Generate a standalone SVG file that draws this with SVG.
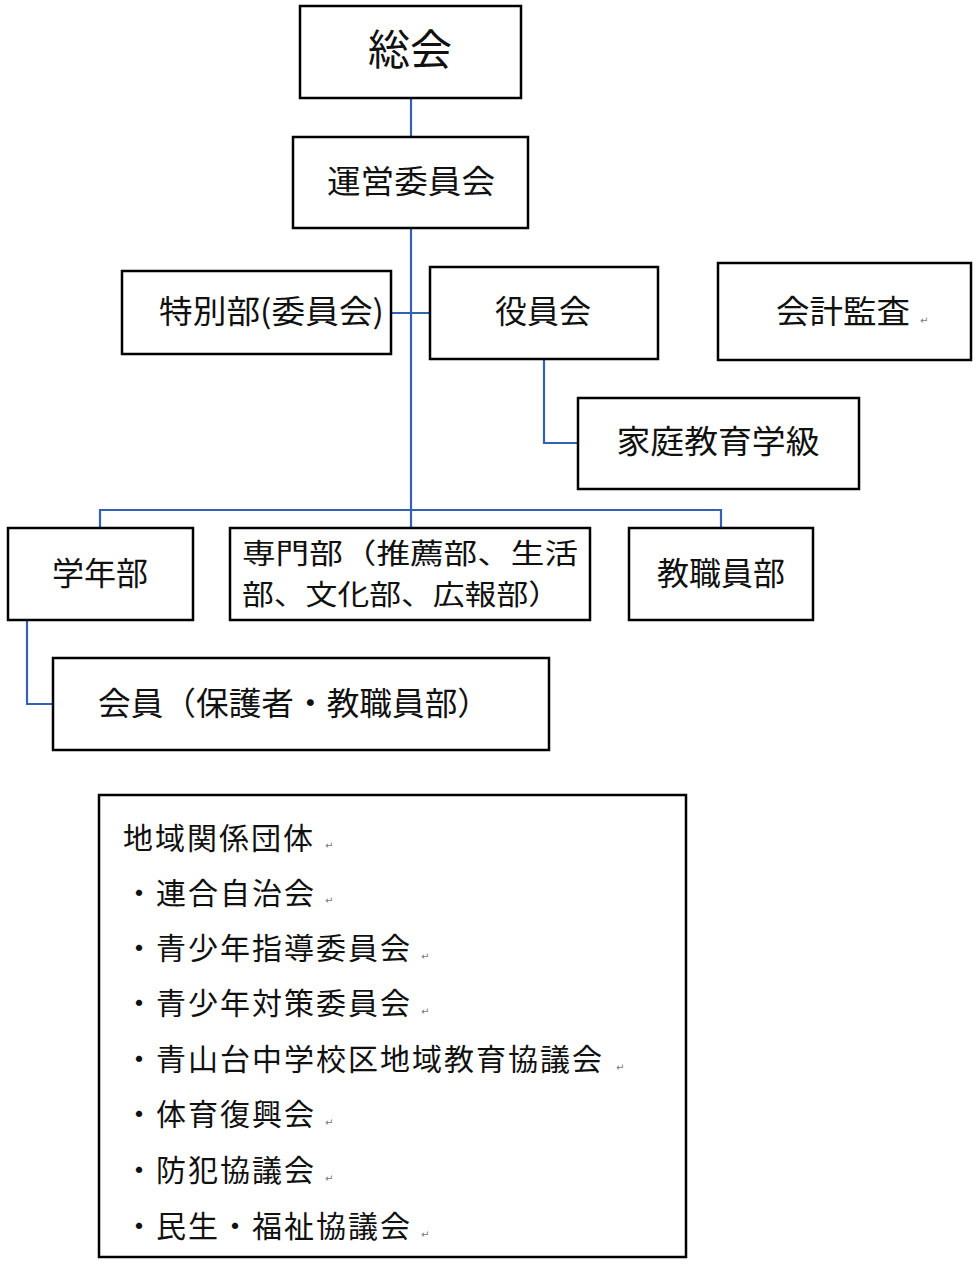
<svg xmlns="http://www.w3.org/2000/svg" width="980" height="1268" viewBox="0 0 980 1268">
<style>
.box{fill:#fff;stroke:#000;stroke-width:2.5}
.t{font-family:"Noto Sans CJK JP","Noto Sans CJK SC",sans-serif;fill:#111;font-size:32px}
.c{text-anchor:middle}
.l{font-family:"Noto Sans CJK JP","Noto Sans CJK SC",sans-serif;fill:#111;font-size:30px}
.rm{font-family:"DejaVu Sans",sans-serif;font-size:10px;fill:#777}
.conn{fill:none;stroke:#3561b5;stroke-width:2.2}
</style>
<rect width="980" height="1268" fill="#fff"/>
<g id="connectors">
<line class="conn" x1="411" y1="98" x2="411" y2="137"/>
<line class="conn" x1="411" y1="228" x2="411" y2="528"/>
<line class="conn" x1="391" y1="313" x2="430" y2="313"/>
<polyline class="conn" points="100,528 100,510 721,510 721,528"/>
<polyline class="conn" points="544,359 544,443 578,443"/>
<polyline class="conn" points="27,620 27,704 53,704"/>
</g>
<g id="soukai"><rect class="box" x="300" y="6" width="221" height="92"/><text class="t c" x="410" y="65" style="font-size:42px">総会</text></g>
<g id="unei"><rect class="box" x="293" y="137" width="235" height="91"/><text class="t c" x="411" y="193" textLength="168" lengthAdjust="spacingAndGlyphs">運営委員会</text></g>
<g id="tokubetsu"><rect class="box" x="122" y="271" width="269" height="83"/><text class="t" x="159" y="323" textLength="225" lengthAdjust="spacingAndGlyphs">特別部(委員会)</text></g>
<g id="yakuin"><rect class="box" x="430" y="267" width="228" height="92"/><text class="t c" x="543" y="323">役員会</text></g>
<g id="kaikei"><rect class="box" x="718" y="263" width="253" height="97"/><text class="t" x="776" y="323" textLength="134" lengthAdjust="spacingAndGlyphs">会計監査</text><text class="rm" x="920" y="324">↵</text></g>
<g id="katei"><rect class="box" x="578" y="398" width="281" height="91"/><text class="t c" x="718" y="453" textLength="203" lengthAdjust="spacingAndGlyphs">家庭教育学級</text></g>
<g id="gakunen"><rect class="box" x="8" y="528" width="185" height="92"/><text class="t c" x="100" y="585">学年部</text></g>
<g id="senmon"><rect class="box" x="230" y="528" width="360" height="92"/><text class="t" style="font-size:28px"><tspan x="242" y="564" textLength="336" lengthAdjust="spacingAndGlyphs">専門部（推薦部、生活</tspan><tspan x="242" y="605" textLength="318" lengthAdjust="spacingAndGlyphs">部、文化部、広報部）</tspan></text></g>
<g id="kyoshoku"><rect class="box" x="629" y="528" width="184" height="92"/><text class="t c" x="721" y="585">教職員部</text></g>
<g id="kaiin"><rect class="box" x="53" y="658" width="496" height="92"/><text class="t" x="98" y="715" textLength="392" lengthAdjust="spacingAndGlyphs">会員（保護者・教職員部）</text></g>
<g id="chiiki">
<rect class="box" x="99" y="795" width="587" height="462"/>
<text class="l" x="123" y="849" letter-spacing="2">地域関係団体</text><text class="rm" x="325" y="849">↵</text>
<text class="l" x="124" y="904" letter-spacing="2">・連合自治会</text><text class="rm" x="325" y="904">↵</text>
<text class="l" x="124" y="959" letter-spacing="2">・青少年指導委員会</text><text class="rm" x="421" y="960">↵</text>
<text class="l" x="124" y="1014" letter-spacing="2">・青少年対策委員会</text><text class="rm" x="421" y="1015">↵</text>
<text class="l" x="124" y="1070" letter-spacing="2">・青山台中学校区地域教育協議会</text><text class="rm" x="616" y="1071">↵</text>
<text class="l" x="124" y="1125" letter-spacing="2">・体育復興会</text><text class="rm" x="325" y="1126">↵</text>
<text class="l" x="124" y="1181" letter-spacing="2">・防犯協議会</text><text class="rm" x="325" y="1182">↵</text>
<text class="l" x="124" y="1237" letter-spacing="2">・民生・福祉協議会</text><text class="rm" x="421" y="1238">↵</text>
</g>
</svg>
